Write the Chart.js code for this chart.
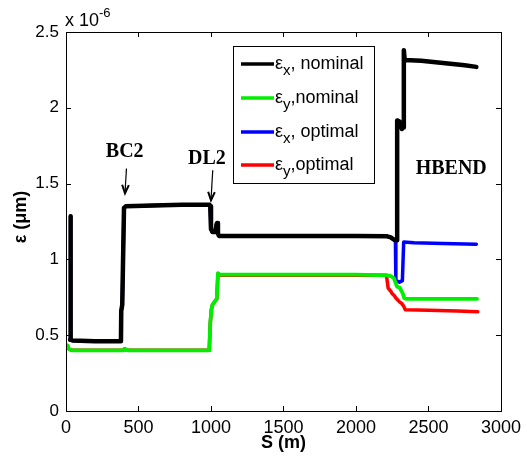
<!DOCTYPE html>
<html>
<head>
<meta charset="utf-8">
<script src="https://cdn.jsdelivr.net/npm/chart.js@4/dist/chart.umd.min.js"></script>
<style>
  html, body { margin: 0; padding: 0; background: #fff; }
  canvas { display: block; }
</style>
</head>
<body>
<canvas id="c" width="527" height="458"></canvas>
<script>
// Emittance along the beamline, in units of 1e-6 (shown by the "x 10^-6" axis multiplier)

// nominal horizontal emittance
const sNomX   = [28, 30, 34, 45, 200, 379, 381, 388, 400, 412, 600, 800, 990, 995, 1000, 1010, 1030, 1038, 1042, 1048, 1055, 1500, 2000, 2215, 2240, 2265, 2283, 2284, 2300, 2317, 2327, 2330, 2336, 2450, 2600, 2750, 2830];
const epsNomX = [0.47, 1.285, 0.47, 0.465, 0.46, 0.46, 0.66, 0.70, 1.34, 1.35, 1.355, 1.36, 1.36, 1.35, 1.20, 1.18, 1.18, 1.23, 1.24, 1.17, 1.155, 1.155, 1.155, 1.152, 1.145, 1.128, 1.127, 1.917, 1.91, 1.86, 1.87, 2.38, 2.315, 2.31, 2.295, 2.28, 2.27];

// nominal vertical emittance
const sNomY   = [0, 12, 20, 40, 200, 400, 403, 430, 700, 988, 995, 1003, 1010, 1025, 1040, 1048, 1060, 1500, 2000, 2215, 2240, 2262, 2275, 2283, 2300, 2315, 2325, 2332, 2345, 2500, 2700, 2835];
const epsNomY = [0.435, 0.43, 0.41, 0.40, 0.40, 0.40, 0.41, 0.40, 0.40, 0.40, 0.58, 0.67, 0.70, 0.72, 0.74, 0.91, 0.90, 0.90, 0.90, 0.895, 0.89, 0.875, 0.84, 0.82, 0.815, 0.79, 0.77, 0.745, 0.74, 0.74, 0.74, 0.74];

// optimal horizontal emittance
const sOptX   = [28, 30, 34, 45, 200, 379, 381, 388, 400, 412, 600, 800, 990, 995, 1000, 1010, 1030, 1038, 1042, 1048, 1055, 1500, 2000, 2215, 2240, 2265, 2272, 2275, 2300, 2320, 2329, 2400, 2600, 2830];
const epsOptX = [0.47, 1.285, 0.47, 0.465, 0.46, 0.46, 0.66, 0.70, 1.34, 1.35, 1.355, 1.36, 1.36, 1.35, 1.20, 1.18, 1.18, 1.23, 1.24, 1.17, 1.155, 1.155, 1.155, 1.152, 1.145, 1.128, 1.12, 0.86, 0.85, 0.86, 1.115, 1.11, 1.105, 1.10];

// optimal vertical emittance
const sOptY   = [0, 12, 20, 40, 200, 400, 403, 430, 700, 988, 995, 1003, 1010, 1025, 1040, 1048, 1060, 1500, 2000, 2210, 2222, 2240, 2249, 2265, 2275, 2290, 2300, 2315, 2330, 2340, 2500, 2700, 2840];
const epsOptY = [0.435, 0.43, 0.41, 0.40, 0.40, 0.40, 0.41, 0.40, 0.40, 0.40, 0.58, 0.67, 0.70, 0.72, 0.74, 0.905, 0.895, 0.895, 0.895, 0.895, 0.81, 0.79, 0.775, 0.76, 0.745, 0.73, 0.72, 0.71, 0.69, 0.668, 0.665, 0.66, 0.655];

const xTicks = [0, 500, 1000, 1500, 2000, 2500, 3000];
const xTickLabels = ['0', '500', '1000', '1500', '2000', '2500', '3000'];
const yTicks = [0, 0.5, 1, 1.5, 2, 2.5];
const yTickLabels = ['0', '0.5', '1', '1.5', '2', '2.5'];

const legendLabels = [
  { sym: 'ε', sub: 'x', rest: ', nominal' },
  { sym: 'ε', sub: 'y', rest: ',nominal' },
  { sym: 'ε', sub: 'x', rest: ', optimal' },
  { sym: 'ε', sub: 'y', rest: ',optimal' }
];

// section labels: text, anchor s, anchor value, and arrow (s0, v0) -> (s1, v1)
const sectionNames = ['BC2', 'DL2', 'HBEND'];
const sectionS     = [405, 972, 2657];
const sectionV     = [1.673, 1.626, 1.561];
const arrowFrom    = [[417, 1.60], [1012, 1.588], null];
const arrowTo      = [[407, 1.436], [1000, 1.39], null];

const zip = (xs, ys) => xs.map((x, i) => ({ x, y: ys[i] }));

const SANS = "'Liberation Sans', Arial, sans-serif";
const SERIF = "'Liberation Serif', 'Times New Roman', serif";

const framePlugin = {
  id: 'frame',
  afterDraw(chart) {
    const { ctx, chartArea: a, scales } = chart;
    const xs = scales.x, ys = scales.y;
    ctx.save();
    ctx.strokeStyle = '#000';
    ctx.lineWidth = 1;
    ctx.strokeRect(Math.round(a.left) + 0.5, Math.round(a.top) + 0.5,
                   Math.round(a.right - a.left), Math.round(a.bottom - a.top));
    // inward ticks on all four sides
    const tl = 5;
    ctx.beginPath();
    xTicks.forEach(v => {
      const px = Math.round(xs.getPixelForValue(v)) + 0.5;
      ctx.moveTo(px, a.bottom); ctx.lineTo(px, a.bottom - tl);
      ctx.moveTo(px, a.top); ctx.lineTo(px, a.top + tl);
    });
    yTicks.forEach(v => {
      const py = Math.round(ys.getPixelForValue(v)) + 0.5;
      ctx.moveTo(a.left, py); ctx.lineTo(a.left + tl, py);
      ctx.moveTo(a.right, py); ctx.lineTo(a.right - tl, py);
    });
    ctx.stroke();

    // exponent multiplier
    ctx.fillStyle = '#000';
    ctx.textAlign = 'left';
    ctx.textBaseline = 'alphabetic';
    ctx.font = `18px ${SANS}`;
    ctx.fillText('x 10', a.left - 1, a.top - 6);
    const w = ctx.measureText('x 10').width;
    ctx.font = `13px ${SANS}`;
    ctx.fillText('-6', a.left - 1 + w, a.top - 15);

    // axis titles
    ctx.font = `bold 18px ${SANS}`;
    ctx.textAlign = 'center';
    ctx.textBaseline = 'alphabetic';
    ctx.fillText('S (m)', (a.left + a.right) / 2, 448);
    ctx.save();
    ctx.translate(21, 217);
    ctx.rotate(-Math.PI / 2);
    ctx.textBaseline = 'middle';
    ctx.fillText('ε (μm)', 0, 0);
    ctx.restore();

    // section labels and arrows
    ctx.font = `bold 20px ${SERIF}`;
    ctx.textAlign = 'center';
    ctx.textBaseline = 'alphabetic';
    sectionNames.forEach((name, i) => {
      ctx.fillText(name, xs.getPixelForValue(sectionS[i]), ys.getPixelForValue(sectionV[i]));
      if (arrowFrom[i]) {
        const x0 = xs.getPixelForValue(arrowFrom[i][0]), y0 = ys.getPixelForValue(arrowFrom[i][1]);
        const x1 = xs.getPixelForValue(arrowTo[i][0]), y1 = ys.getPixelForValue(arrowTo[i][1]);
        ctx.lineWidth = 1.2;
        ctx.beginPath();
        ctx.moveTo(x0, y0); ctx.lineTo(x1, y1);
        ctx.stroke();
        const ang = Math.atan2(y1 - y0, x1 - x0);
        const hl = 9, hw = 0.38;
        ctx.lineWidth = 2;
        ctx.beginPath();
        ctx.moveTo(x1 - hl * Math.cos(ang - hw), y1 - hl * Math.sin(ang - hw));
        ctx.lineTo(x1, y1);
        ctx.lineTo(x1 - hl * Math.cos(ang + hw), y1 - hl * Math.sin(ang + hw));
        ctx.stroke();
      }
    });

    // legend box
    const lx = 233, ly = 46, lw = 141, lh = 137;
    ctx.fillStyle = '#fff';
    ctx.fillRect(lx, ly, lw, lh);
    ctx.lineWidth = 1;
    ctx.strokeStyle = '#000';
    ctx.strokeRect(lx + 0.5, ly + 0.5, lw, lh);
    const rowY = [64, 98, 132, 165];
    chart.data.datasets.forEach((ds, i) => {
      const y = rowY[i];
      ctx.strokeStyle = ds.borderColor;
      ctx.lineWidth = 3.5;
      ctx.lineCap = 'butt';
      ctx.beginPath();
      ctx.moveTo(241, y); ctx.lineTo(274, y);
      ctx.stroke();
      const lab = legendLabels[i];
      ctx.fillStyle = '#000';
      ctx.textAlign = 'left';
      ctx.textBaseline = 'alphabetic';
      let x = 275;
      ctx.font = `18px ${SANS}`;
      ctx.fillText(lab.sym, x, y + 5);
      x += ctx.measureText(lab.sym).width;
      ctx.font = `15px ${SANS}`;
      ctx.fillText(lab.sub, x, y + 11);
      x += ctx.measureText(lab.sub).width;
      ctx.font = `18px ${SANS}`;
      ctx.fillText(lab.rest, x, y + 5);
    });
    ctx.restore();
  }
};

const lineStyle = (color, width) => ({
  borderColor: color,
  borderWidth: width,
  pointRadius: 0,
  fill: false,
  tension: 0,
  borderJoinStyle: 'round',
  borderCapStyle: 'round'
});

new Chart(document.getElementById('c'), {
  type: 'line',
  data: {
    datasets: [
      { label: 'εx, nominal', data: zip(sNomX, epsNomX), ...lineStyle('#000000', 4.5) },
      { label: 'εy, nominal', data: zip(sNomY, epsNomY), ...lineStyle('#00ee00', 3.8) },
      { label: 'εx, optimal', data: zip(sOptX, epsOptX), ...lineStyle('#0000ff', 3.5) },
      { label: 'εy, optimal', data: zip(sOptY, epsOptY), ...lineStyle('#ff0000', 3.5) }
    ]
  },
  options: {
    responsive: false,
    devicePixelRatio: 1,
    animation: false,
    layout: { padding: { top: 32, right: 22, left: 0, bottom: 0 } },
    plugins: { legend: { display: false }, tooltip: { enabled: false } },
    scales: {
      x: {
        type: 'linear',
        min: 0, max: 3000,
        afterBuildTicks: s => { s.ticks = xTicks.map(v => ({ value: v })); },
        afterFit: s => { s.height = 47; },
        grid: { display: false, drawTicks: false },
        border: { display: false },
        ticks: {
          color: '#000', font: { family: SANS, size: 18 }, padding: 6, maxRotation: 0, autoSkip: false,
          callback: v => xTickLabels[xTicks.indexOf(v)]
        }
      },
      y: {
        type: 'linear',
        min: 0, max: 2.5,
        afterBuildTicks: s => { s.ticks = yTicks.map(v => ({ value: v })); },
        afterFit: s => { s.width = 66; },
        grid: { display: false, drawTicks: false },
        border: { display: false },
        ticks: {
          color: '#000', font: { family: SANS, size: 17 }, padding: 7,
          callback: v => yTickLabels[yTicks.indexOf(v)]
        }
      }
    }
  },
  plugins: [framePlugin]
});
</script>
</body>
</html>
